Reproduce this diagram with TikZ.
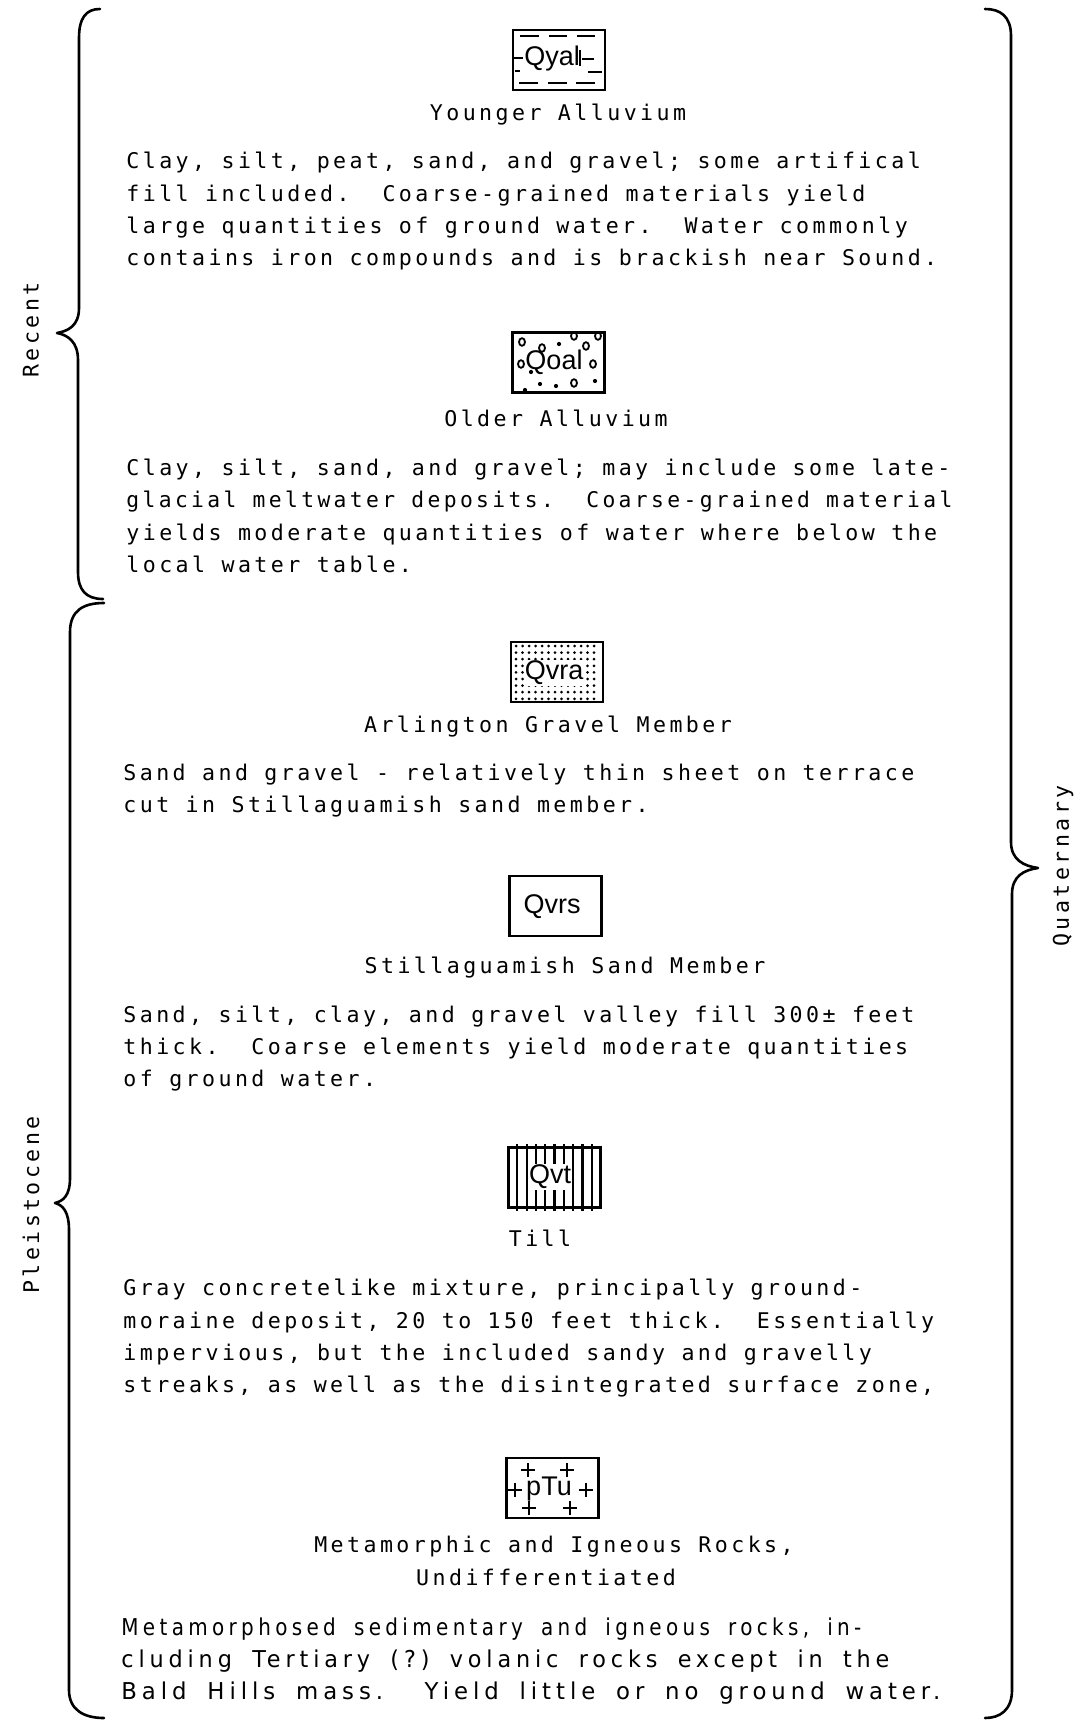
\documentclass[tikz,border=0pt]{standalone}
\usepackage{fontspec}
\usepackage{graphicx}
\newfontfamily\bodyfont[LetterSpace=15.9]{DejaVu Sans Mono}
\newfontfamily\narrowfont[FakeStretch=0.78,LetterSpace=17,WordSpace=1.7]{DejaVu Sans}
\newfontfamily\symfont{Liberation Sans}
\frenchspacing
\newsavebox\fitbox
\newcommand\fitto[2]{\sbox\fitbox{#2}\pgfmathsetmacro\fitscale{#1/\the\wd\fitbox}\scalebox{\fitscale}[1]{\usebox\fitbox}}
\begin{document}
\begin{tikzpicture}[x=0.5pt,y=-0.5pt,
  txtline/.style={anchor=base west, inner sep=0pt, font={\bodyfont\fontsize{10.8}{12}\selectfont}},
  narrowline/.style={anchor=base west, inner sep=0pt, font={\narrowfont\fontsize{11.6}{12}\selectfont}},
  head/.style={anchor=base, inner sep=0pt, font={\bodyfont\fontsize{10.8}{12}\selectfont}},
  side/.style={inner sep=0pt, rotate=90, font={\bodyfont\fontsize{10.8}{12}\selectfont}},
  symbox/.style={draw, line width=1.4pt, minimum width=46pt, minimum height=30pt, inner sep=0pt},
  symlab/.style={inner sep=0.6pt, font={\symfont\fontsize{13.5}{15}\selectfont}},
  pat/.style={line width=1pt},
  brace/.style={line width=1.3pt, line cap=round, line join=round}]
\useasboundingbox (0,0) rectangle (1081,1722);

% ---------- braces ----------
\draw[brace] (100,9) .. controls (86,9) and (79,18) .. (79,38) -- (79,308)
  .. controls (79,326) and (68,331) .. (57,333)
  .. controls (68,335) and (78,342) .. (78,360) -- (78,572)
  .. controls (78,590) and (86,599) .. (103,599);
\draw[brace] (104,603) .. controls (84,603) and (70,610) .. (70,632) -- (70,1178)
  .. controls (70,1196) and (63,1201) .. (55,1203)
  .. controls (63,1205) and (69,1212) .. (69,1230) -- (69,1690)
  .. controls (69,1710) and (84,1718) .. (104,1718);
\draw[brace] (985,9) .. controls (1000,9) and (1011,16) .. (1011,36) -- (1011,842)
  .. controls (1011,860) and (1024,866) .. (1038,868)
  .. controls (1024,870) and (1012,876) .. (1012,894) -- (1012,1690)
  .. controls (1012,1710) and (1000,1718) .. (985,1718);

\node[side] (recent) at (31,330) {Recent};
\node[side] (pleist) at (31,1205) {Pleistocene};
\node[side] (quat) at (1063,866) {Quaternary};

% ---------- Qyal ----------
\node[symbox] (b1) at (559,60) {};
\draw[pat] (520,36) -- (539,36) (549,36) -- (567,36) (577,36) -- (595,36);
\draw[pat] (519,83) -- (538,83) (548,83) -- (567,83) (576,83) -- (595,83);
\draw[pat] (514,58) -- (523,58) (515,71) -- (520,71);
\draw[pat] (582,59) -- (594,59) (588,72) -- (602,72);
\node[symlab, fill=white] (l1) at (552,59) {Qyal};
\draw[line width=0.6pt] (580,50) -- (580,66);

% ---------- Qoal ----------
\node[symbox] (b2) at (558.5,362.5) {};
\foreach \px/\py in {522/342,542/348,574/336,586/346,598/336,574/383,521/364,593/364}
  \draw[line width=0.9pt] (\px,\py) ellipse (3 and 3.8);
\foreach \px/\py in {559/344,540/384,556/386,595/381,525/390,531/372}
  \fill (\px,\py) circle (2.1);
\node[symlab] (l2) at (554,362) {Qoal};

% ---------- Qvra ----------
\node[symbox] (b3) at (557,672) {};
\foreach \i in {0,...,12}
  \foreach \j in {0,...,8}
    \fill ({516+6.5*\i},{646+6.6*\j}) circle (1.5);
\node[symlab, fill=white] (l3) at (554,673) {Qvra};

% ---------- Qvrs ----------
\node[symbox] (b4) at (555.5,906) {};
\node[symlab] (l4) at (552,907) {Qvrs};

% ---------- Qvt ----------
\node[symbox] (b5) at (554.5,1177.5) {};
\foreach \i in {1,...,9}
  \draw[line width=1.1pt] ({508+9.3*\i},1144) -- ({508+9.3*\i},1211);
\node[symlab, fill=white] (l5) at (550,1177) {Qvt};

% ---------- pTu ----------
\node[symbox] (b6) at (552.5,1488) {};
\foreach \px/\py in {528/1470,567/1470,515/1490,586/1490,529/1508,570/1508}
  \draw[line width=1.1pt] (\px-7,\py) -- (\px+7,\py) (\px,\py-7) -- (\px,\py+7);
\node[symlab] (l6) at (549,1489) {pTu};

% ---------- headings ----------
\node[head] (h1) at (558,120.5) {Younger Alluvium};
\node[head] (h2) at (556,426.5) {Older Alluvium};
\node[head] (h3) at (548,732.5) {Arlington Gravel Member};
\node[head] (h4) at (565,973.5) {Stillaguamish Sand Member};
\node[head] (h5) at (540,1246.5) {Till};
\node[head] (h6a) at (554,1552.5) {Metamorphic and Igneous Rocks,};
\node[head] (h6b) at (546,1585.5) {Undifferentiated};

% ---------- paragraphs ----------
\node[txtline] (p1a) at (126,169) {Clay, silt, peat, sand, and gravel; some artifical};
\node[txtline] (p1b) at (126,201.5) {fill included.\ \ Coarse-grained materials yield};
\node[txtline] (p1c) at (126,234) {large quantities of ground water.\ \ Water commonly};
\node[txtline] (p1d) at (126,266) {contains iron compounds and is brackish near Sound.};

\node[txtline] (p2a) at (126,475.5) {Clay, silt, sand, and gravel; may include some late-};
\node[txtline] (p2b) at (126,507.5) {\fitto{413pt}{glacial meltwater deposits.\ \ Coarse-grained material}};
\node[txtline] (p2c) at (126,540) {yields moderate quantities of water where below the};
\node[txtline] (p2d) at (126,572.5) {local water table.};

\node[txtline] (p3a) at (123,780.5) {Sand and gravel - relatively thin sheet on terrace};
\node[txtline] (p3b) at (123,812.5) {cut in Stillaguamish sand member.};

\node[txtline] (p4a) at (123,1022.5) {Sand, silt, clay, and gravel valley fill 300± feet};
\node[txtline] (p4b) at (123,1054.5) {thick.\ \ Coarse elements yield moderate quantities};
\node[txtline] (p4c) at (123,1086.5) {of ground water.};

\node[txtline] (p5a) at (123,1295.5) {Gray concretelike mixture, principally ground-};
\node[txtline] (p5b) at (123,1328) {moraine deposit, 20 to 150 feet thick.\ \ Essentially};
\node[txtline] (p5c) at (123,1360) {impervious, but the included sandy and gravelly};
\node[txtline] (p5d) at (123,1392.5) {streaks, as well as the disintegrated surface zone,};

\node[narrowline] (p6a) at (121,1635) {\fitto{370pt}{Metamorphosed sedimentary and igneous rocks, in-}};
\node[narrowline] (p6b) at (121,1667) {\fitto{384pt}{cluding Tertiary (?) volanic rocks except in the}};
\node[narrowline] (p6c) at (121,1699) {\fitto{409.5pt}{Bald Hills mass.\ \ Yield little or no ground water.}};
\end{tikzpicture}
\end{document}
